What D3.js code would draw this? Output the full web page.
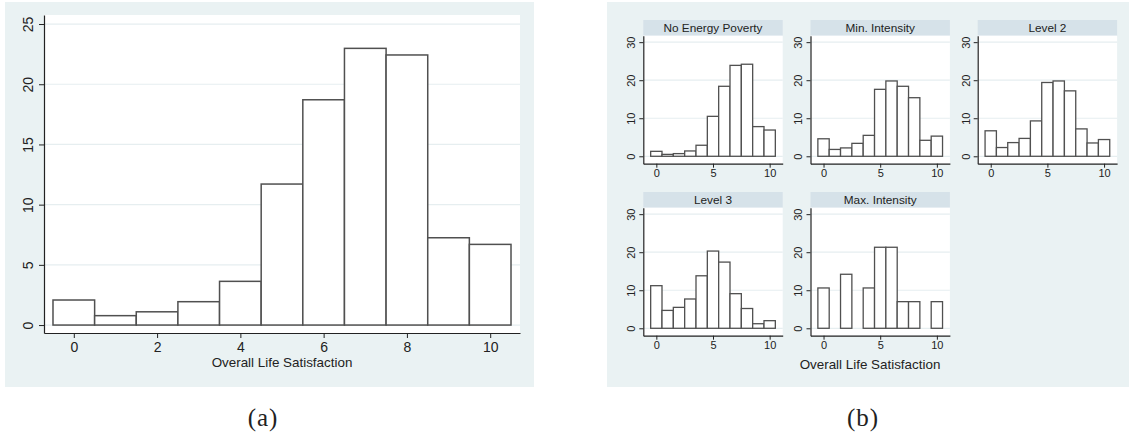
<!DOCTYPE html>
<html>
<head>
<meta charset="utf-8">
<script src="https://cdn.jsdelivr.net/npm/d3@7"></script>
<style>
  html, body { margin: 0; padding: 0; background: #ffffff; }
  svg { display: block; }
  text { font-family: "Liberation Sans", Arial, sans-serif; fill: #222; }
</style>
</head>
<body>
<svg id="chart" width="1129" height="437"></svg>
<script>
// ---------- DATA ----------
const categories = [0, 1, 2, 3, 4, 5, 6, 7, 8, 9, 10];
const overallPct = [2.08, 0.78, 1.10, 1.94, 3.63, 11.71, 18.71, 22.98, 22.43, 7.25, 6.70];

const facetNames = ["No Energy Poverty", "Min. Intensity", "Level 2", "Level 3", "Max. Intensity"];
const noEnergyPoverty = [1.3, 0.5, 0.7, 1.4, 2.9, 10.5, 18.4, 23.9, 24.2, 7.8, 6.9];
const minIntensity    = [4.6, 1.8, 2.2, 3.4, 5.5, 17.6, 19.8, 18.4, 15.4, 4.2, 5.3];
const level2          = [6.7, 2.3, 3.6, 4.7, 9.3, 19.4, 19.8, 17.2, 7.2, 3.5, 4.4];
const level3          = [11.2, 4.7, 5.5, 7.7, 13.8, 20.3, 17.4, 9.1, 5.2, 1.2, 2.0];
const maxIntensity    = [10.6, 0, 14.2, 0, 10.6, 21.3, 21.3, 7.0, 7.0, 0, 7.0];

const overallYTicks = [0, 5, 10, 15, 20, 25];
const overallXTicks = [0, 2, 4, 6, 8, 10];
const facetYTicks = [0, 10, 20, 30];
const facetXTicks = [0, 5, 10];
const xTitle = "Overall Life Satisfaction";
const panelLabels = ["(a)", "(b)"];

// ---------- STYLE ----------
const BG = "#eaf2f3";
const STRIP = "#d6e2e9";
const GRID = "#e6eef0";
const BAR_STROKE = "#505050";
const AXIS = "#222";

const svg = d3.select("#chart");

function styleAxis(g) {
  g.select(".domain").attr("stroke", AXIS).attr("stroke-width", 1.2);
  g.selectAll(".tick line").attr("stroke", AXIS).attr("stroke-width", 1);
}

function drawHist(g, values, x, y, opts) {
  g.append("rect")
    .attr("x", x.range()[0]).attr("y", y.range()[1])
    .attr("width", x.range()[1] - x.range()[0])
    .attr("height", y.range()[0] - y.range()[1])
    .attr("fill", "#fff");
  g.selectAll(null).data(opts.yTicks).enter().append("line")
    .attr("x1", x.range()[0]).attr("x2", x.range()[1])
    .attr("y1", d => y(d)).attr("y2", d => y(d))
    .attr("stroke", GRID).attr("stroke-width", 1.2);
  const data = categories.map((c, i) => ({ c, v: values[i] })).filter(d => d.v > 0);
  g.selectAll(null).data(data).enter().append("rect")
    .attr("x", d => x(d.c - 0.5))
    .attr("width", d => x(d.c + 0.5) - x(d.c - 0.5))
    .attr("y", d => y(d.v))
    .attr("height", d => y(0) - y(d.v))
    .attr("fill", "#fff")
    .attr("stroke", BAR_STROKE)
    .attr("stroke-width", opts.barStroke);

  const ya = g.append("g")
    .attr("transform", `translate(${x.range()[0]},0)`)
    .call(d3.axisLeft(y).tickValues(opts.yTicks).tickSize(opts.tickLen).tickSizeOuter(0).tickFormat(d3.format("d")));
  styleAxis(ya);
  ya.selectAll(".tick text")
    .attr("transform", "rotate(-90)")
    .attr("x", 0).attr("y", -opts.yLabOff).attr("dy", "0.36em")
    .attr("text-anchor", "middle")
    .style("font-size", opts.tickFont + "px").attr("fill", "#222");
  ya.attr("font-family", null);

  const xa = g.append("g")
    .attr("transform", `translate(0,${y.range()[0]})`)
    .call(d3.axisBottom(x).tickValues(opts.xTicks).tickSize(opts.tickLen).tickSizeOuter(0).tickFormat(d3.format("d")));
  styleAxis(xa);
  xa.selectAll(".tick text")
    .attr("y", opts.xLabOff).attr("dy", "0.36em")
    .style("font-size", opts.tickFont + "px").attr("fill", "#222");
  xa.attr("font-family", null);
}

// ---------- PANEL (a) ----------
svg.append("rect").attr("x", 5).attr("y", 2).attr("width", 529).attr("height", 385).attr("fill", BG);
const gA = svg.append("g");
const xA = d3.scaleLinear().domain([-0.716, 10.716]).range([44, 520]);
const yA = d3.scaleLinear().domain([-0.66, 25.75]).range([333, 15]);
drawHist(gA, overallPct, xA, yA, {
  yTicks: overallYTicks, xTicks: overallXTicks, tickLen: 5,
  yLabOff: 16, xLabOff: 14, tickFont: 14, barStroke: 1.5
});
gA.append("text").attr("x", 282).attr("y", 362).attr("dy", "0.36em")
  .attr("text-anchor", "middle").style("font-size", "13.4px").text(xTitle);

// ---------- PANEL (b) ----------
svg.append("rect").attr("x", 607).attr("y", 2).attr("width", 522).attr("height", 385).attr("fill", BG);
const facetSeries = [noEnergyPoverty, minIntensity, level2, level3, maxIntensity];
const plotW = 139.4, colStep = 167.2, rowStep = 172;
facetSeries.forEach((vals, i) => {
  const col = i % 3, row = Math.floor(i / 3);
  const left = 643.3 + col * colStep;
  const stripTop = 20 + row * rowStep;
  const top = 35.7 + row * rowStep;
  const bottom = 163.7 + row * rowStep;
  const g = svg.append("g");
  g.append("rect").attr("x", left).attr("y", stripTop).attr("width", plotW).attr("height", top - stripTop).attr("fill", STRIP);
  g.append("text").attr("x", left + plotW / 2).attr("y", (stripTop + top) / 2).attr("dy", "0.36em")
    .attr("text-anchor", "middle").style("font-size", "11.8px").text(facetNames[i]);
  const x = d3.scaleLinear().domain([-1.15, 11.15]).range([left, left + plotW]);
  const y = d3.scaleLinear().domain([-1.95, 31.7]).range([bottom, top]);
  drawHist(g, vals, x, y, {
    yTicks: facetYTicks, xTicks: facetXTicks, tickLen: 4,
    yLabOff: 12, xLabOff: 9, tickFont: 11, barStroke: 1.3
  });
});
svg.append("text").attr("x", 870).attr("y", 364).attr("dy", "0.36em")
  .attr("text-anchor", "middle").style("font-size", "13.4px").text(xTitle);

// ---------- captions ----------
[263, 863].forEach((cx, i) => {
  svg.append("text").attr("x", cx).attr("y", 418).attr("dy", "0.33em")
    .attr("text-anchor", "middle")
    .style("font-family", "'Liberation Serif', 'DejaVu Serif', serif")
    .style("font-size", "25px").style("letter-spacing", "1px").attr("fill", "#111")
    .text(panelLabels[i]);
});
</script>
</body>
</html>
